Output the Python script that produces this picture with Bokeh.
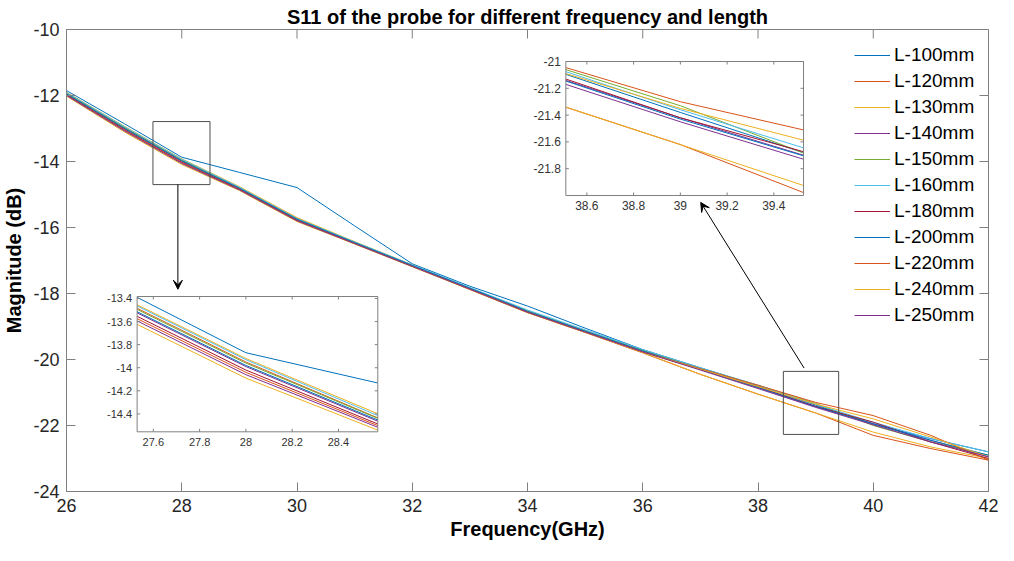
import numpy as np
from bokeh.plotting import figure
from bokeh.models import Range1d, FixedTicker, Legend, LegendItem, Arrow, VeeHead
from bokeh.embed import file_html
from bokeh.resources import INLINE
from bokeh.core.properties import value

# ---------------- data ----------------
freq = [26, 27, 28, 29, 30, 31, 32, 33, 34, 35, 36, 37, 38, 39, 40, 41, 42]

names = ["L-100mm", "L-120mm", "L-130mm", "L-140mm", "L-150mm", "L-160mm",
         "L-180mm", "L-200mm", "L-220mm", "L-240mm", "L-250mm"]

L100 = [-11.85, -12.85, -13.87, -14.33, -14.79, -15.95, -17.10, -17.78, -18.38, -19.05, -19.70, -20.25, -20.80, -21.38, -21.95, -22.40, -22.80]
L120 = [-11.92, -12.96, -13.95, -14.80, -15.72, -16.45, -17.15, -17.88, -18.58, -19.18, -19.80, -20.45, -21.05, -21.62, -22.30, -22.70, -23.05]
L130 = [-11.90, -12.93, -13.92, -14.76, -15.70, -16.43, -17.13, -17.86, -18.57, -19.17, -19.79, -20.45, -21.05, -21.62, -22.20, -22.65, -23.00]
L140 = [-11.96, -13.00, -13.99, -14.82, -15.76, -16.47, -17.16, -17.85, -18.55, -19.15, -19.75, -20.30, -20.85, -21.42, -21.95, -22.45, -22.95]
L150 = [-11.93, -12.97, -13.96, -14.80, -15.74, -16.44, -17.14, -17.83, -18.52, -19.12, -19.72, -20.26, -20.78, -21.33, -22.00, -22.50, -22.90]
L160 = [-11.91, -12.94, -13.93, -14.78, -15.73, -16.44, -17.13, -17.82, -18.50, -19.10, -19.70, -20.25, -20.78, -21.36, -21.90, -22.40, -22.80]
L180 = [-11.98, -13.03, -14.02, -14.84, -15.78, -16.48, -17.17, -17.86, -18.56, -19.16, -19.76, -20.30, -20.83, -21.42, -21.90, -22.50, -23.00]
L200 = [-11.95, -12.99, -13.98, -14.81, -15.75, -16.46, -17.15, -17.84, -18.54, -19.14, -19.74, -20.30, -20.85, -21.43, -21.95, -22.45, -22.90]
L220 = [-11.99, -13.05, -14.04, -14.85, -15.79, -16.49, -17.18, -17.87, -18.57, -19.17, -19.77, -20.28, -20.78, -21.30, -21.70, -22.30, -23.05]
L240 = [-12.02, -13.10, -14.09, -14.88, -15.82, -16.50, -17.19, -17.88, -18.58, -19.18, -19.78, -20.30, -20.82, -21.35, -21.80, -22.35, -22.95]
L250 = [-12.00, -13.07, -14.06, -14.86, -15.80, -16.49, -17.18, -17.87, -18.57, -19.17, -19.77, -20.32, -20.88, -21.45, -21.98, -22.50, -22.95]

series = [L100, L120, L130, L140, L150, L160, L180, L200, L220, L240, L250]

colors = ["#0072BD", "#D95319", "#EDB120", "#7E2F8E", "#77AC30", "#4DBEEE",
          "#A2142F", "#0072BD", "#D95319", "#EDB120", "#7E2F8E"]

x_ticks = [26, 28, 30, 32, 34, 36, 38, 40, 42]
x_tick_labels = ["26", "28", "30", "32", "34", "36", "38", "40", "42"]
y_ticks = [-10, -12, -14, -16, -18, -20, -22, -24]
y_tick_labels = ["-10", "-12", "-14", "-16", "-18", "-20", "-22", "-24"]

# inset 1 (zoom around 28 GHz)
in1_xlim = (27.53, 28.57)
in1_ylim = (-14.555, -13.383)
in1_x_ticks = [27.6, 27.8, 28.0, 28.2, 28.4]
in1_x_labels = ["27.6", "27.8", "28", "28.2", "28.4"]
in1_y_ticks = [-13.4, -13.6, -13.8, -14.0, -14.2, -14.4]
in1_y_labels = ["-13.4", "-13.6", "-13.8", "-14", "-14.2", "-14.4"]

# inset 2 (zoom around 39 GHz)
in2_xlim = (38.51, 39.527)
in2_ylim = (-22.0, -21.0)
in2_x_ticks = [38.6, 38.8, 39.0, 39.2, 39.4]
in2_x_labels = ["38.6", "38.8", "39", "39.2", "39.4"]
in2_y_ticks = [-21.0, -21.2, -21.4, -21.6, -21.8]
in2_y_labels = ["-21", "-21.2", "-21.4", "-21.6", "-21.8"]

# ---------------- layout constants (positions, in main-axes units) ----------------
in1_target = ((27.2255, 31.402), (-22.191, -18.091))
in2_target = ((34.665, 38.790), (-15.030, -10.970))
zoom_box1 = (27.50, 28.49, -14.70, -12.79)
zoom_box2 = (38.44, 39.40, -22.27, -20.36)
arrow1 = (27.933, -14.70, 27.933, -17.87)
arrow2 = (38.80, -20.26, 37.006, -15.24)

FONT = "Liberation Sans"
AX = "#808080"
TXT = "#262626"

p = figure(width=998, height=545, x_range=Range1d(26, 42), y_range=Range1d(-24, -10),
           output_backend="svg", toolbar_location=None,
           min_border_left=61, min_border_right=10, min_border_top=29, min_border_bottom=54)
p.background_fill_color = "white"
p.border_fill_color = "white"
p.outline_line_color = AX
p.grid.visible = False

p.title.text = "S11 of the probe for different frequency and length"
p.title.align = "center"
p.title.text_font = FONT
p.title.text_font_size = "20px"
p.title.text_font_style = "bold"
p.title.text_color = "black"
p.title.standoff = 4

for ax, ticks, labels in ((p.xaxis[0], x_ticks, x_tick_labels), (p.yaxis[0], y_ticks, y_tick_labels)):
    ax.ticker = FixedTicker(ticks=ticks)
    ax.major_label_overrides = {t: s for t, s in zip(ticks, labels)}
    ax.major_tick_in = 9
    ax.major_tick_out = 0
    ax.minor_tick_in = 0
    ax.minor_tick_out = 0
    ax.axis_line_color = AX
    ax.major_tick_line_color = AX
    ax.major_label_text_font = FONT
    ax.major_label_text_font_size = "18px"
    ax.major_label_text_color = TXT
    ax.axis_label_text_font = FONT
    ax.axis_label_text_font_size = "20px"
    ax.axis_label_text_font_style = "bold"
    ax.axis_label_text_color = "black"

p.xaxis.axis_label = "Frequency(GHz)"
p.yaxis.axis_label = "Magnitude (dB)"
p.xaxis.major_label_standoff = 7
p.xaxis.axis_label_standoff = 3
p.yaxis.major_label_standoff = 7
p.yaxis.axis_label_standoff = 5

# box ticks on the top and right edges (MATLAB "box on")
p.ray(x=x_ticks, y=[p.y_range.end] * len(x_ticks), length=9, angle=-np.pi / 2,
      length_units="screen", line_color=AX, line_width=1)
p.ray(x=[p.x_range.end] * len(y_ticks), y=y_ticks, length=9, angle=np.pi,
      length_units="screen", line_color=AX, line_width=1)

# main curves
renderers = []
for ys, c in zip(series, colors):
    r = p.line(freq, ys, line_color=c, line_width=1)
    renderers.append(r)

# zoom rectangles + arrows
for (l, r_, b, t) in (zoom_box1, zoom_box2):
    p.quad(left=[l], right=[r_], bottom=[b], top=[t], fill_color=None,
           line_color="#4d4d4d", line_width=1)
for (xs, ys_, xe, ye) in (arrow1, arrow2):
    p.add_layout(Arrow(end=VeeHead(size=9, fill_color="black", line_color="black", line_width=1),
                       x_start=xs, y_start=ys_, x_end=xe, y_end=ye,
                       line_color="black", line_width=1))


def clip(xs, ys, lo, hi):
    xs = np.asarray(xs, float)
    ys = np.asarray(ys, float)
    inner = (xs > lo) & (xs < hi)
    cx = np.concatenate([[lo], xs[inner], [hi]])
    return cx, np.interp(cx, xs, ys)


def inset(xlim, ylim, target, xt, xl, yt, yl, fsize):
    sub = p.subplot(x_source=Range1d(*xlim), y_source=Range1d(*ylim),
                    x_target=Range1d(*target[0]), y_target=Range1d(*target[1]))
    sub.quad(left=[xlim[0]], right=[xlim[1]], bottom=[ylim[0]], top=[ylim[1]],
             fill_color="white", line_color=None)
    for ys, c in zip(series, colors):
        cx, cy = clip(freq, ys, xlim[0], xlim[1])
        sub.line(cx, cy, line_color=c, line_width=1)
    sub.quad(left=[xlim[0]], right=[xlim[1]], bottom=[ylim[0]], top=[ylim[1]],
             fill_color=None, line_color=AX, line_width=1)
    n, m = len(xt), len(yt)
    sub.ray(x=xt, y=[ylim[0]] * n, length=3, angle=np.pi / 2, length_units="screen", line_color=AX)
    sub.ray(x=xt, y=[ylim[1]] * n, length=3, angle=-np.pi / 2, length_units="screen", line_color=AX)
    sub.ray(x=[xlim[0]] * m, y=yt, length=3, angle=0, length_units="screen", line_color=AX)
    sub.ray(x=[xlim[1]] * m, y=yt, length=3, angle=np.pi, length_units="screen", line_color=AX)
    sub.text(x=xt, y=[ylim[0]] * n, text=xl, text_font=value(FONT), text_font_size=fsize,
             text_color="#333333", text_align="center", text_baseline="top", y_offset=6)
    sub.text(x=[xlim[0]] * m, y=yt, text=yl, text_font=value(FONT), text_font_size=fsize,
             text_color="#333333", text_align="right", text_baseline="middle", x_offset=-5)


inset(in1_xlim, in1_ylim, in1_target, in1_x_ticks, in1_x_labels, in1_y_ticks, in1_y_labels, "11px")
inset(in2_xlim, in2_ylim, in2_target, in2_x_ticks, in2_x_labels, in2_y_ticks, in2_y_labels, "12px")

legend = Legend(items=[LegendItem(label=n, renderers=[r]) for n, r in zip(names, renderers)],
                location=(788, 163), glyph_width=36, glyph_height=26, label_height=26,
                spacing=0, padding=0, margin=0, label_standoff=4,
                label_text_font=FONT, label_text_font_size="19px", label_text_color="black",
                border_line_color=None, background_fill_alpha=0)
p.add_layout(legend)

open("out.html", "w").write(file_html(p, INLINE))
